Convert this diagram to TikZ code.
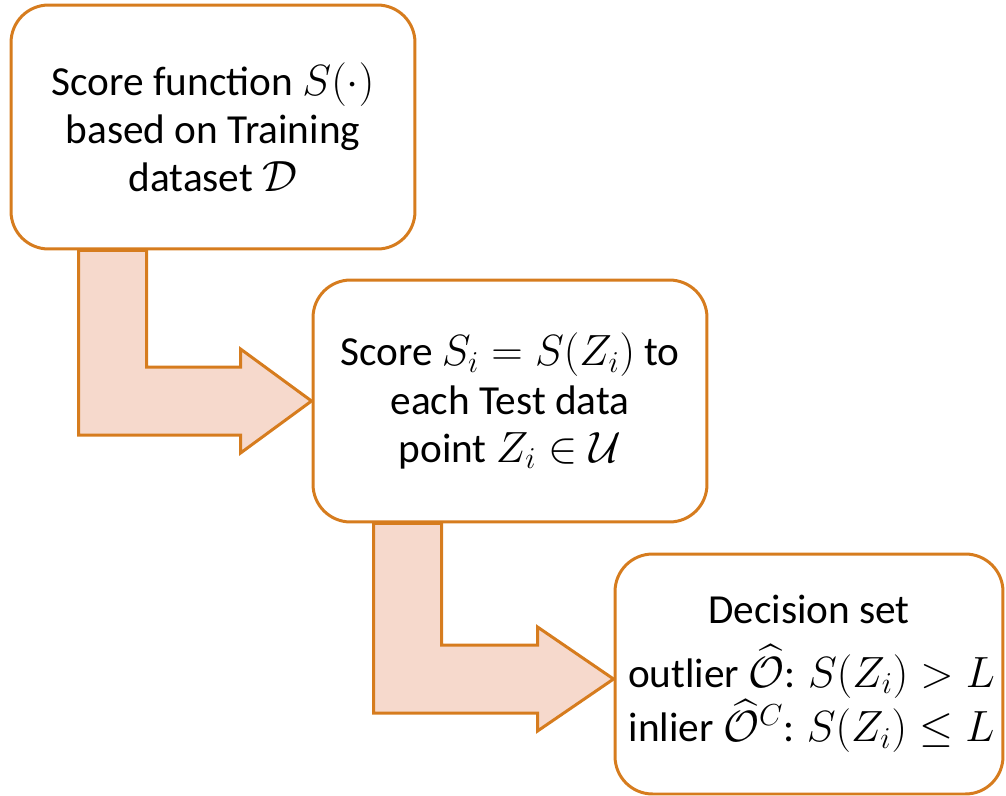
\documentclass[tikz,border=0pt]{standalone}
\usepackage{amsmath, amssymb}
\usepackage{fontspec}
\setmainfont{Carlito}
\usetikzlibrary{calc}
\definecolor{boxline}{RGB}{214,124,30}
\definecolor{arrowfill}{RGB}{246,217,204}

\tikzset{
  stepbox/.style={draw=boxline, line width=1.7pt, rounded corners=0.75cm, fill=white,
    align=center, font=\fontsize{23.5}{27.4}\selectfont},
  flowarrow/.style={draw=boxline, line width=1.7pt, fill=arrowfill, line join=miter}
}

\begin{document}
\begin{tikzpicture}[x=0.02cm, y=-0.02cm]
  \useasboundingbox (0,0) rectangle (1006,795);

  % the three steps
  \node[stepbox, minimum width=8.08cm, minimum height=4.88cm] (score) at (213,127)
    {Score function $S(\cdot)$\\ based on Training\\ dataset $\mathcal{D}$};
  \node[stepbox, minimum width=7.88cm, minimum height=4.84cm] (test) at (510,401)
    {Score $S_i = S(Z_i)$ to\\ each Test data\\ point $Z_i \in \mathcal{U}$};
  \node[stepbox, minimum width=7.76cm, minimum height=4.8cm] (decision) at (809,674)
    {Decision set\\[0.3cm] \hspace{0.1cm}outlier $\widehat{\mathcal{O}}$: $S(Z_i) > L$\\
     \hspace{0.1cm}inlier $\widehat{\mathcal{O}}^C$: $S(Z_i) \le L$};

  % bent arrows between the steps
  \draw[flowarrow] ($(score.south west)+(69,0)$) coordinate (a1)
    -- ($(score.south west)+(137,0)$) |- ($(test.west)+(-71,-34)$)
    -- ++(0,-18) -- (test.west) -- ++(-71,52) -- ++(0,-18) -| (a1) -- cycle;
  \draw[flowarrow] ($(test.south west)+(62,0)$) coordinate (a2)
    -- ($(test.south west)+(130,0)$) |- ($(decision.west)+(-76,-29)$)
    -- ++(0,-18) -- ($(decision.west)+(0,5)$) -- ++(-76,52) -- ++(0,-18) -| (a2) -- cycle;
\end{tikzpicture}
\end{document}
